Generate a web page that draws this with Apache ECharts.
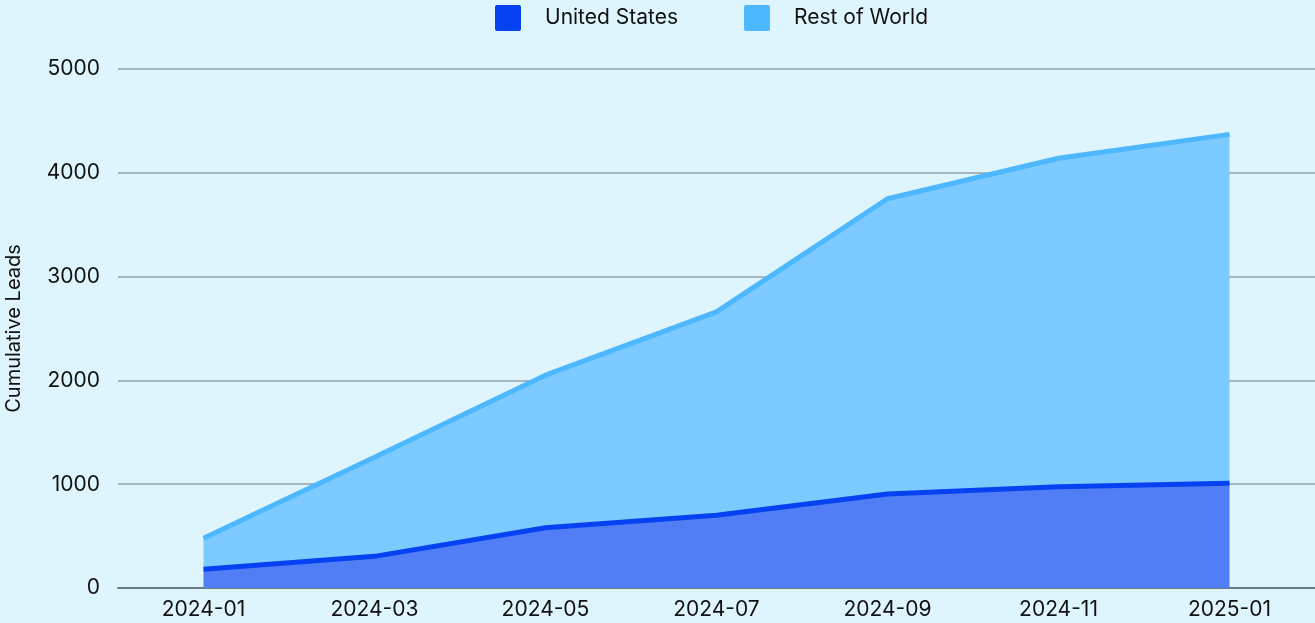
<!DOCTYPE html>
<html>
<head>
<meta charset="utf-8">
<script src="https://cdn.jsdelivr.net/npm/echarts@6/dist/echarts.min.js"></script>
<style>
html,body{margin:0;padding:0;background:#dff5fd;}
#chart{width:1315px;height:623px;}
</style>
</head>
<body>
<div id="chart"></div>
<script>
const categories = ['2024-01','2024-03','2024-05','2024-07','2024-09','2024-11','2025-01'];
const usValues = [180, 305, 580, 700, 905, 975, 1010];
const rowValues = [300, 955, 1470, 1960, 2845, 3165, 3360];
const yTicks = [0, 1000, 2000, 3000, 4000, 5000];

const chart = echarts.init(document.getElementById('chart'));
chart.setOption({
  backgroundColor: '#dff5fd',
  animation: false,
  textStyle: { fontFamily: 'Inter' },
  legend: {
    top: 0,
    left: 490,
    itemWidth: 26,
    itemHeight: 26,
    itemGap: 66,
    icon: 'path://M2,0 L24,0 Q26,0 26,2 L26,24 Q26,26 24,26 L2,26 Q0,26 0,24 L0,2 Q0,0 2,0 Z',
    textStyle: { fontSize: 21, color: '#111', fontFamily: 'Inter', padding: [0, 0, 0, 19] },
    data: ['United States', 'Rest of World']
  },
  grid: { left: 118, right: 0, top: 69, bottom: 35, containLabel: false, outerBoundsMode: 'none' },
  xAxis: {
    type: 'category',
    data: categories,
    boundaryGap: true,
    axisTick: { show: false },
    axisLine: { lineStyle: { color: '#6b7a82', width: 2 } },
    axisLabel: { fontSize: 21, color: '#111', margin: 11, fontFamily: 'Inter' },
    splitLine: { show: false }
  },
  yAxis: {
    type: 'value',
    min: yTicks[0],
    max: yTicks[yTicks.length - 1],
    interval: 1000,
    name: 'Cumulative Leads',
    nameLocation: 'middle',
    nameGap: 94,
    nameTextStyle: { fontSize: 20, color: '#111', fontFamily: 'Inter' },
    axisLine: { show: false },
    axisTick: { show: false },
    axisLabel: { fontSize: 21, color: '#111', margin: 18, fontFamily: 'Inter', formatter: function (v) { return String(v); } },
    splitLine: { lineStyle: { color: '#a6b5bd', width: 2 } }
  },
  series: [
    {
      name: 'United States',
      type: 'line',
      stack: 'total',
      data: usValues,
      symbol: 'none',
      color: '#0742f2',
      lineStyle: { color: '#0742f2', width: 5 },
      areaStyle: { color: '#517ef5', opacity: 1 },
      z: 3
    },
    {
      name: 'Rest of World',
      type: 'line',
      stack: 'total',
      data: rowValues,
      symbol: 'none',
      color: '#4db8ff',
      lineStyle: { color: '#4db8ff', width: 5 },
      areaStyle: { color: '#7ccaff', opacity: 1 },
      z: 2
    }
  ]
});
</script>
</body>
</html>
